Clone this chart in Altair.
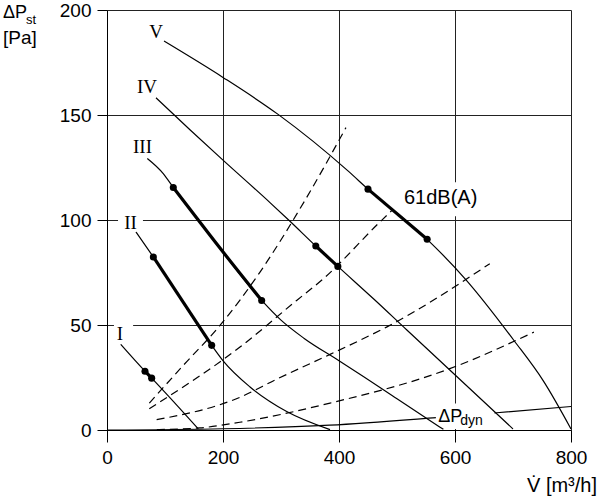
import altair as alt
import pandas as pd

# ---------------- data ----------------
# fan characteristic curves: volume flow [m³/h] -> static pressure [Pa]
fan_names = ["I", "II", "III", "IV", "V"]
fan_I_x = [23.6, 65.5, 77.0, 157.4]
fan_I_y = [40.8, 28.0, 24.7, 0.5]
fan_II_x = [50.0, 79.9, 180.5, 200.6, 246.6, 309.8, 384.5]
fan_II_y = [94.3, 82.4, 40.3, 32.8, 20.5, 8.8, 0.2]
fan_III_x = [69.5, 97.0, 114.3, 151.7, 177.6, 266.7, 300.0, 340.0, 400.0, 436.0, 500.0, 580.0]
fan_III_y = [129.3, 122.1, 115.5, 102.0, 92.7, 61.7, 52.3, 43.6, 33.0, 26.6, 14.9, 0.3]
fan_IV_x = [84.5, 143.0, 200.0, 281.0, 315.5, 360.0, 398.0, 459.0, 517.0, 591.0, 700.0]
fan_IV_y = [158.2, 143.0, 128.5, 108.3, 99.4, 87.6, 77.9, 62.6, 47.6, 28.6, 0.5]
fan_V_x = [98.3, 200.0, 295.0, 415.0, 450.0, 552.0, 619.0, 702.0, 752.0, 800.0]
fan_V_y = [185.2, 167.9, 150.3, 123.5, 114.7, 90.8, 71.5, 42.5, 23.5, 0.5]

# operating range end points (dots) on each fan curve
range_curve = ["I", "I", "II", "II", "III", "III", "IV", "IV", "V", "V"]
range_x = [65.5, 77.0, 79.9, 180.5, 114.3, 266.7, 360.0, 398.0, 450.0, 552.0]
range_y = [28.0, 24.7, 82.4, 40.3, 115.5, 61.7, 87.6, 77.9, 114.7, 90.8]

# system resistance curves (dashed)
sys_names = ["S1", "S2", "S3", "S4"]
sys_S1_x = [72.9, 131.6, 194.8, 263.8, 341.4, 412.0]
sys_S1_y = [12.8, 30.8, 49.8, 75.2, 109.4, 144.0]
sys_S2_x = [72.9, 229.3, 327.0, 372.9, 470.7, 491.0]
sys_S2_y = [10.1, 39.5, 61.7, 72.0, 99.1, 104.5]
sys_S3_x = [85.6, 229.3, 292.6, 384.5, 436.0, 482.0, 660.0]
sys_S3_y = [4.9, 15.6, 24.2, 36.0, 42.7, 49.0, 79.2]
sys_S4_x = [86.0, 160.0, 229.0, 384.5, 591.0, 736.0]
sys_S4_y = [0.2, 1.0, 3.7, 12.8, 29.2, 46.6]

# dynamic pressure curve
dyn_x = [0.0, 200.0, 384.0, 568.0, 672.0, 800.0]
dyn_y = [0.0, 0.6, 2.3, 5.9, 8.2, 11.2]

# axis ticks
x_ticks = [0, 200, 400, 600, 800]
y_ticks = [0, 50, 100, 150, 200]

# curve labels (data units)
label_text = ["I", "II", "III", "IV", "V"]
label_x = [22.4, 40.5, 61.2, 69.0, 84.5]
label_y = [42.7, 95.6, 131.8, 160.4, 186.7]

# ---------------- tables ----------------
fan_x = {"I": fan_I_x, "II": fan_II_x, "III": fan_III_x, "IV": fan_IV_x, "V": fan_V_x}
fan_y = {"I": fan_I_y, "II": fan_II_y, "III": fan_III_y, "IV": fan_IV_y, "V": fan_V_y}
sys_x = {"S1": sys_S1_x, "S2": sys_S2_x, "S3": sys_S3_x, "S4": sys_S4_x}
sys_y = {"S1": sys_S1_y, "S2": sys_S2_y, "S3": sys_S3_y, "S4": sys_S4_y}

fan_rows, thick_rows = [], []
for n in fan_names:
    xs = [range_x[i] for i, c in enumerate(range_curve) if c == n]
    lo, hi = min(xs), max(xs)
    for i, (x, y) in enumerate(zip(fan_x[n], fan_y[n])):
        fan_rows.append({"name": n, "x": x, "y": y, "i": i})
        if lo - 1e-6 <= x <= hi + 1e-6:
            thick_rows.append({"name": n, "x": x, "y": y, "i": i})
fan_df = pd.DataFrame(fan_rows)
thick_df = pd.DataFrame(thick_rows)

sys_df = pd.DataFrame([{"name": n, "x": x, "y": y, "i": i}
                       for n in sys_names
                       for i, (x, y) in enumerate(zip(sys_x[n], sys_y[n]))])
dyn_df = pd.DataFrame({"x": dyn_x, "y": dyn_y, "i": list(range(len(dyn_x)))})
dots_df = pd.DataFrame({"name": range_curve, "x": range_x, "y": range_y})
labels_df = pd.DataFrame({"t": label_text, "x": label_x, "y": label_y})

SANS = "Liberation Sans"
SERIF = "Liberation Serif"

xscale = alt.Scale(domain=[0, 800], nice=False, zero=False)
yscale = alt.Scale(domain=[0, 200], nice=False, zero=False)
xaxis = alt.Axis(values=x_ticks, title=None, grid=True, gridColor="#222", gridWidth=1,
                 tickSize=12, tickColor="black", domainColor="black", labelFont=SANS,
                 labelFontSize=19, labelColor="black", labelPadding=6, labelFlush=False,
                 format="d")
yaxis = alt.Axis(values=y_ticks, title=None, grid=True, gridColor="#222", gridWidth=1,
                 tickSize=10, tickColor="black", domainColor="black", labelFont=SANS,
                 labelFontSize=19, labelColor="black", labelPadding=6, format="d")

X = alt.X("x:Q", scale=xscale, axis=xaxis)
Y = alt.Y("y:Q", scale=yscale, axis=yaxis)

dyn_line = alt.Chart(dyn_df).mark_line(color="black", strokeWidth=1.1, interpolate="monotone").encode(
    x=X, y=Y, order="i:Q")

sys_lines = alt.Chart(sys_df).mark_line(color="black", strokeWidth=1.2, strokeDash=[8, 5],
                                        interpolate="monotone").encode(
    x=X, y=Y, detail="name:N", order="i:Q")

# white boxes behind labels (break grid lines as in the original)
box_df = pd.DataFrame({
    "x": [12.0, 19.0, 507.0, 567.0],
    "x2": [45.0, 62.0, 648.0, 668.0],
    "y": [42.2, 94.2, 101.8, 0.5],
    "y2": [50.3, 103.7, 118.0, 12.6],
})
boxes = alt.Chart(box_df).mark_rect(color="white").encode(
    x=X, x2="x2:Q", y=Y, y2="y2:Q")

fan_lines = alt.Chart(fan_df).mark_line(color="black", strokeWidth=1.2, interpolate="monotone").encode(
    x=X, y=Y, detail="name:N", order="i:Q")

thick_lines = alt.Chart(thick_df).mark_line(color="black", strokeWidth=3.2, interpolate="monotone").encode(
    x=X, y=Y, detail="name:N", order="i:Q")

dots = alt.Chart(dots_df).mark_circle(color="black", size=50, opacity=1).encode(x=X, y=Y)

roman = alt.Chart(labels_df).mark_text(font=SERIF, fontSize=19, color="black", align="center",
                                       baseline="alphabetic").encode(x=X, y=Y, text="t:N")

db_label = alt.Chart(pd.DataFrame({"t": ["61dB(A)"], "x": [512.0], "y": [107.5]})).mark_text(
    font=SANS, fontSize=20, color="black", align="left", baseline="alphabetic").encode(
    x=X, y=Y, text="t:N")

dyn_label1 = alt.Chart(pd.DataFrame({"t": ["ΔP"], "x": [571.0], "y": [3.7]})).mark_text(
    font=SANS, fontSize=18, color="black", align="left", baseline="alphabetic").encode(
    x=X, y=Y, text="t:N")
dyn_label2 = alt.Chart(pd.DataFrame({"t": ["dyn"], "x": [609.0], "y": [2.6]})).mark_text(
    font=SANS, fontSize=14, color="black", align="left", baseline="alphabetic").encode(
    x=X, y=Y, text="t:N")

# axis titles
def ptext(t, px, py, size):
    return alt.Chart(pd.DataFrame({"t": [t]})).mark_text(
        font=SANS, fontSize=size, color="black", align="left", baseline="alphabetic").encode(
        x=alt.value(px), y=alt.value(py), text="t:N")

ytitle1 = ptext("ΔP", -104, 8, 18)
ytitle2 = ptext("st", -81, 14, 13)
ytitle3 = ptext("[Pa]", -104, 33.5, 19)
xtitle = alt.Chart(pd.DataFrame({"t": ["V\u0307 [m³/h]"]})).mark_text(
    font=SANS, fontSize=20, color="black", align="right", baseline="alphabetic").encode(
    x=alt.value(490), y=alt.value(482), text="t:N")

chart = alt.layer(
    dyn_line, sys_lines, boxes, fan_lines, thick_lines, dots, roman, db_label,
    dyn_label1, dyn_label2, ytitle1, ytitle2, ytitle3, xtitle
).properties(
    width=464, height=420,
    autosize=alt.AutoSizeParams(type="none"),
    padding={"left": 107, "top": 10, "right": 29, "bottom": 70},
    background="white",
).configure_view(stroke=None)

chart.save("out.html", embed_options={"renderer": "svg", "actions": False})
